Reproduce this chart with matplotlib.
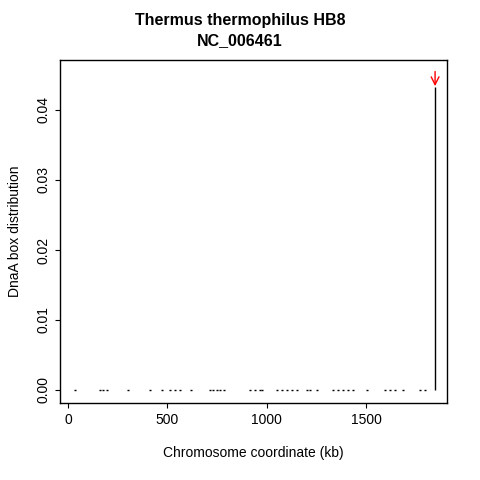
import numpy as np
import matplotlib
matplotlib.use("Agg")
import matplotlib.pyplot as plt

plt.rcParams["font.family"] = ["Liberation Sans", "DejaVu Sans"]

# DnaA box positions (kb) and their distribution values
box_kb = [35, 161, 176, 196, 302, 413, 473, 514, 539, 564, 619, 715, 730, 750,
          765, 786, 916, 942, 967, 977, 1052, 1078, 1103, 1128, 1153, 1203,
          1219, 1254, 1334, 1360, 1385, 1410, 1435, 1506, 1596, 1621, 1647,
          1687, 1772, 1798]
box_val = [0.0] * len(box_kb)
peak_kb = 1848
peak_val = 0.0433

fig = plt.figure(figsize=(4.8, 4.8), dpi=100)
ax = fig.add_axes([60 / 480, 1 - 403 / 480, 387 / 480, 343 / 480])

ax.plot(box_kb, box_val, linestyle="none", marker="_", markersize=1.6,
        markeredgewidth=1, color="black")
ax.vlines([peak_kb], 0, [peak_val], color="black", linewidth=1)
ax.annotate("", xy=(peak_kb, peak_val + 0.0001), xytext=(peak_kb, peak_val + 0.0022),
            arrowprops=dict(arrowstyle="->", color="red", lw=1,
                            mutation_scale=14, shrinkA=0, shrinkB=0))

ax.set_xlim(-40, 1908)
ax.set_ylim(-0.00186, 0.04714)
ax.set_xticks([0, 500, 1000, 1500])
ax.set_yticks([0.0, 0.01, 0.02, 0.03, 0.04])
ax.set_yticklabels(["0.00", "0.01", "0.02", "0.03", "0.04"], rotation=90,
                   va="center")
ax.tick_params(labelsize=10)
for s in ax.spines.values():
    s.set_linewidth(1)

ax.set_xlabel("Chromosome coordinate (kb)", fontsize=10, labelpad=14)
ax.set_ylabel("DnaA box distribution", fontsize=10, labelpad=10)
fig.text(0.5, 1 - 20 / 480, "Thermus thermophilus HB8", ha="center",
         va="center", fontsize=11.5, fontweight="bold")
fig.text(0.5, 1 - 41 / 480, "NC_006461", ha="center", va="center",
         fontsize=11.5, fontweight="bold")

fig.savefig("out.png", dpi=100)
